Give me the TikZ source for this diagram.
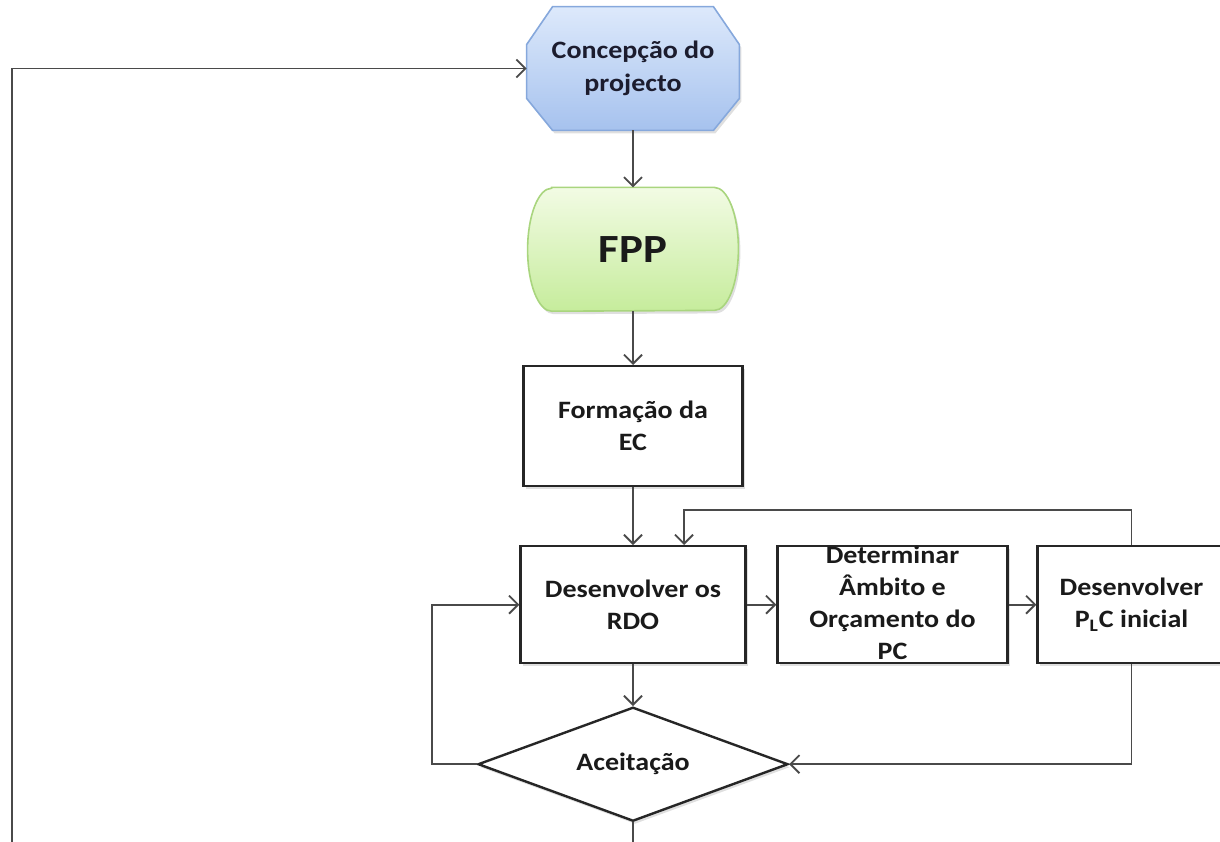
\documentclass[tikz,border=0pt]{standalone}
\usepackage{fontspec}
\setmainfont{Carlito}[FakeStretch=1.12]
\usetikzlibrary{positioning,shapes.geometric,arrows.meta,shadows,backgrounds}

\definecolor{linegray}{HTML}{4A4A4A}
\definecolor{octtop}{HTML}{DDE9FB}
\definecolor{octbot}{HTML}{A6C2EE}
\definecolor{octline}{HTML}{86A8DC}
\definecolor{fpptop}{HTML}{F2FBE4}
\definecolor{fppbot}{HTML}{C6EC9C}
\definecolor{fppline}{HTML}{A9D57E}
\definecolor{navytext}{HTML}{1C1C2E}
\definecolor{boxink}{HTML}{1A1A1A}

\tikzset{
  conn/.style={draw=linegray, line width=0.9pt, -{Straight Barb[length=4.5pt,width=9pt]}},
  link/.style={draw=linegray, line width=0.9pt},
  softshadow/.style={drop shadow={shadow xshift=1pt, shadow yshift=-1.5pt, opacity=0.25}},
  octotext/.style={rectangle, minimum width=106pt, minimum height=61.5pt, inner sep=0pt,
    align=center, text=navytext, font=\bfseries\fontsize{12.5}{16.5}\selectfont},
  octoshape/.style={draw=octline, line width=0.8pt, top color=octtop, bottom color=octbot, softshadow},
  termtext/.style={rectangle, minimum width=105pt, minimum height=61.5pt, inner sep=0pt,
    text=boxink, font=\bfseries\fontsize{20}{24}\selectfont},
  termshape/.style={draw=fppline, line width=0.8pt, top color=fpptop, bottom color=fppbot, softshadow},
  procbox/.style={rectangle, draw=black!85, line width=1.2pt, fill=white, minimum height=58.5pt,
    inner sep=0pt, align=center, softshadow, text=boxink, font=\bfseries\fontsize{12.5}{16}\selectfont},
  boxtext/.style={align=center, text=boxink, font=\bfseries\fontsize{12.5}{16}\selectfont},
  decision/.style={diamond, aspect=2.7, minimum width=155pt, minimum height=57pt, inner sep=0pt,
    draw=black!85, line width=1.2pt, fill=white, softshadow, text=boxink,
    font=\bfseries\fontsize{12.5}{16}\selectfont}
}

\begin{document}
\begin{tikzpicture}
  \useasboundingbox (0pt,0pt) rectangle (610pt,-420.5pt);

  % main column
  \node[octotext] (concep) at (316.5pt,-34.25pt) {Concepção do\\projecto};
  \node[termtext, below=28.5pt of concep] (fpp) {FPP};
  \node[procbox, minimum width=109.5pt, minimum height=60pt, below=26.9pt of fpp] (formacao) {Formação da\\EC};
  \node[procbox, minimum width=112.5pt, below=28.8pt of formacao] (rdo) {Desenvolver os\\RDO};
  \node[procbox, minimum width=115pt, right=14.8pt of rdo,
    label={[boxtext, yshift=1pt]center:Determinar\\Âmbito e\\Orçamento do\\PC}] (ambito) {};
  \node[procbox, minimum width=94pt, right=13.8pt of ambito] (plc) {Desenvolver\\P\textsubscript{L}C inicial};
  \node[decision, below=20.8pt of rdo] (aceit) {Aceitação};

  % outlines of the two top shapes
  \begin{scope}[on background layer]
    \path[octoshape] ([xshift=13pt]concep.north west) -- ([xshift=-13pt]concep.north east)
      -- ([yshift=-19pt]concep.north east) -- ([yshift=16pt]concep.south east)
      -- ([xshift=-13pt]concep.south east) -- ([xshift=13pt]concep.south west)
      -- ([yshift=16pt]concep.south west) -- ([yshift=-19pt]concep.north west) -- cycle;
    \path[termshape] ([xshift=12pt]fpp.north west) -- ([xshift=-12pt]fpp.north east)
      arc[start angle=90, end angle=-90, x radius=12pt, y radius=30.75pt]
      -- ([xshift=12pt]fpp.south west)
      arc[start angle=270, end angle=90, x radius=12pt, y radius=30.75pt] -- cycle;
  \end{scope}

  \coordinate (pagefoot) at (6pt,-421pt);

  % connectors
  \draw[conn] (concep) -- (fpp);
  \draw[conn] (fpp) -- (formacao);
  \draw[conn] (formacao) -- (rdo);
  \draw[conn] (rdo) -- (ambito);
  \draw[conn] (ambito) -- (plc);
  \draw[conn] (rdo) -- (aceit);
  \draw[conn] (plc.north) -- ++(0pt,17.5pt) -| ([xshift=25.5pt]rdo.north);
  \draw[conn] (plc.south) |- (aceit.east);
  \draw[conn] (aceit.west) -- ++(-22.5pt,0pt) |- (rdo.west);
  \draw[link] (aceit.south) -- (aceit.south |- pagefoot);
  \draw[conn] (pagefoot) |- (concep.west);
\end{tikzpicture}
\end{document}
